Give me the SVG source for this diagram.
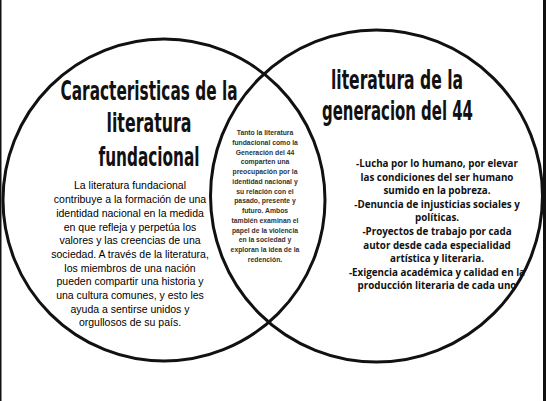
<svg xmlns="http://www.w3.org/2000/svg" width="546" height="401" viewBox="0 0 546 401">
<style>
.ring{fill:none;stroke:#111;stroke-width:3}
.title{font-family:"Liberation Sans Narrow","DejaVu Sans Condensed","Liberation Sans",sans-serif;font-weight:bold;font-size:26px;fill:#111;text-anchor:middle}
.body{font-family:"Liberation Sans",Arial,sans-serif;font-size:10.5px;fill:#000;text-anchor:middle}
.mid{font-family:"Liberation Sans",Arial,sans-serif;font-weight:bold;font-size:6.8px;fill:#333;text-anchor:middle}
.right{font-family:"Open Sans","Liberation Sans",sans-serif;font-weight:bold;font-size:9.8px;fill:#111;text-anchor:middle}
</style>
<rect x="0" y="0" width="546" height="401" fill="#fff"/>
<rect x="0" y="0" width="1.5" height="401" fill="#111"/>
<rect x="543" y="0" width="3" height="401" fill="#111"/>
<g id="left-circle">
<circle class="ring" cx="164" cy="200" r="161"/>
<text class="title" x="149" y="99.5" textLength="177" lengthAdjust="spacingAndGlyphs">Caracteristicas de la</text>
<text class="title" x="149" y="132" textLength="85" lengthAdjust="spacingAndGlyphs">literatura</text>
<text class="title" x="149" y="165.5" textLength="101" lengthAdjust="spacingAndGlyphs">fundacional</text>
<text class="body" x="130" y="189.4">La literatura fundacional</text>
<text class="body" x="130" y="203.1">contribuye a la formación de una</text>
<text class="body" x="130" y="216.8">identidad nacional en la medida</text>
<text class="body" x="130" y="230.5">en que refleja y perpetúa los</text>
<text class="body" x="130" y="244.2">valores y las creencias de una</text>
<text class="body" x="130" y="257.9">sociedad. A través de la literatura,</text>
<text class="body" x="130" y="271.6">los miembros de una nación</text>
<text class="body" x="130" y="285.3">pueden compartir una historia y</text>
<text class="body" x="130" y="299">una cultura comunes, y esto les</text>
<text class="body" x="130" y="312.7">ayuda a sentirse unidos y</text>
<text class="body" x="130" y="326.4">orgullosos de su país.</text>
</g>
<g id="right-circle">
<circle class="ring" cx="376.5" cy="196" r="166"/>
<text class="title" x="397" y="89" textLength="132" lengthAdjust="spacingAndGlyphs">literatura de la</text>
<text class="title" x="397.5" y="120" textLength="151" lengthAdjust="spacingAndGlyphs">generacion del 44</text>
<text class="right" x="437" y="167">-Lucha por lo humano, por elevar</text>
<text class="right" x="437" y="180.6">las condiciones del ser humano</text>
<text class="right" x="437" y="194.2">sumido en la pobreza.</text>
<text class="right" x="437" y="207.8">-Denuncia de injusticias sociales y</text>
<text class="right" x="437" y="221.4">políticas.</text>
<text class="right" x="437" y="235">-Proyectos de trabajo por cada</text>
<text class="right" x="437" y="248.6">autor desde cada especialidad</text>
<text class="right" x="437" y="262.2">artística y literaria.</text>
<text class="right" x="437" y="275.8">-Exigencia académica y calidad en la</text>
<text class="right" x="437" y="289.4">producción literaria de cada uno</text>
</g>
<g id="intersection">
<text class="mid" x="265" y="135.2">Tanto la literatura</text>
<text class="mid" x="265" y="144.9">fundacional como la</text>
<text class="mid" x="265" y="154.6">Generación del 44</text>
<text class="mid" x="265" y="164.4">comparten una</text>
<text class="mid" x="265" y="174.1">preocupación por la</text>
<text class="mid" x="265" y="183.8">identidad nacional y</text>
<text class="mid" x="265" y="193.6">su relación con el</text>
<text class="mid" x="265" y="203.3">pasado, presente y</text>
<text class="mid" x="265" y="213">futuro. Ambos</text>
<text class="mid" x="265" y="222.8">también examinan el</text>
<text class="mid" x="265" y="232.5">papel de la violencia</text>
<text class="mid" x="265" y="242.2">en la sociedad y</text>
<text class="mid" x="265" y="252">exploran la idea de la</text>
<text class="mid" x="265" y="261.7">redención.</text>
</g>
<g id="connectors"></g>
</svg>
